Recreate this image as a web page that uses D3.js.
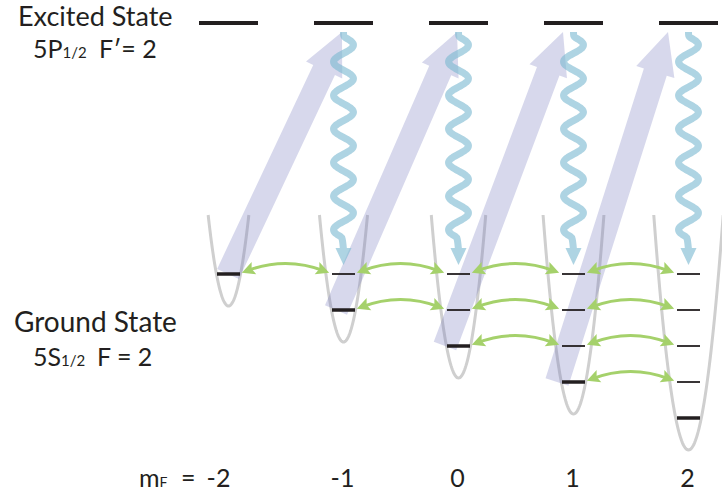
<!DOCTYPE html>
<html>
<head>
<meta charset="utf-8">
<script src="https://cdn.jsdelivr.net/npm/d3@7"></script>
<style>
  body { margin: 0; background: #fff; }
  text { font-family: Lato, "Noto Sans", sans-serif; fill: #231f20; }
</style>
</head>
<body>
<div id="chart"></div>
<script>
// magnetic sublevels and the ladder of trap states in each well
var mF = [-2, -1, 0, 1, 2];
var levelsInWell = [1, 2, 3, 4, 5];        // number of vibrational levels drawn per well
var pumpFrom = [-2, -1, 0, 1];             // optical pumping: ground mF -> excited mF+1
var pumpTo = [-1, 0, 1, 2];
var decayFrom = [-1, 0, 1, 2];             // spontaneous decay, excited mF -> ground mF
var tickLabels = ["-2", "-1", "0", "1", "2"];

var width = 722, height = 495;

var svg = d3.select("#chart").append("svg")
    .attr("width", width)
    .attr("height", height);

var x = d3.scaleLinear().domain([-2, 2]).range([228.5, 688.5]);
var yLevel = d3.scaleLinear().domain([0, 4]).range([274, 418]);
var yExcited = 23;
var wellTop = 215;
var curv = [0.22, 0.22, 0.22, 0.215, 0.195];

// ---- wells
var wells = svg.append("g");
mF.forEach(function(m, i) {
    var cx = x(m), k = curv[i];
    var yb = yLevel(levelsInWell[i] - 1) + 32;
    var hw = Math.sqrt((yb - wellTop) / k);
    var pts = d3.range(-hw, hw + 0.01, hw / 40).map(function(dx) {
        return [cx + dx, yb - k * dx * dx];
    });
    wells.append("path")
        .attr("d", d3.line()(pts))
        .attr("fill", "none")
        .attr("stroke", "#cfcfcf")
        .attr("stroke-width", 3);
});

// ---- pumping arrows (wide lavender)
var tailNudge = [-0.5, -7.5, -13.5, -16.5];
var tipNudge = [-1.5, -1.5, -10.5, -20.5];
var pumps = svg.append("g");
pumpFrom.forEach(function(m, i) {
    var wi = mF.indexOf(m);
    var T = [x(m) + tailNudge[i], yLevel(levelsInWell[wi] - 1)];
    var P = [x(pumpTo[i]) + tipNudge[i], yExcited + 9];
    var dx = P[0] - T[0], dy = P[1] - T[1], len = Math.sqrt(dx * dx + dy * dy);
    var u = [dx / len, dy / len], n = [-u[1], u[0]];
    var sw = 12, hh = 20, hl = 42;
    var B = [P[0] - u[0] * hl, P[1] - u[1] * hl];
    function off(p, s) { return [p[0] + n[0] * s, p[1] + n[1] * s]; }
    var poly = [off(T, sw), off(T, -sw), off(B, -sw), off(B, -hh), P, off(B, hh), off(B, sw)];
    pumps.append("path")
        .attr("d", "M" + poly.join("L") + "Z")
        .attr("fill", "#7c7fc0")
        .attr("fill-opacity", 0.3);
});

// ---- ground state levels
var levels = svg.append("g");
mF.forEach(function(m, i) {
    d3.range(levelsInWell[i]).forEach(function(j) {
        var last = j === levelsInWell[i] - 1;
        levels.append("line")
            .attr("x1", x(m) - 11.5).attr("x2", x(m) + 11.5)
            .attr("y1", yLevel(j)).attr("y2", yLevel(j))
            .attr("stroke", "#231f20")
            .attr("stroke-width", last ? 3.5 : 1.8);
    });
    // excited state bar
    levels.append("line")
        .attr("x1", x(m) - 29.5).attr("x2", x(m) + 29.5)
        .attr("y1", yExcited).attr("y2", yExcited)
        .attr("stroke", "#231f20")
        .attr("stroke-width", 4);
});

// ---- couplings between neighbouring wells (green double arrows)
var defs = svg.append("defs");
defs.append("marker")
    .attr("id", "gh")
    .attr("markerUnits", "userSpaceOnUse")
    .attr("markerWidth", 16).attr("markerHeight", 16)
    .attr("viewBox", "-2 -8 16 16")
    .attr("refX", 8).attr("refY", 0)
    .attr("orient", "auto-start-reverse")
    .append("path")
    .attr("d", "M0,-6.5L13,0L0,6.5L2.5,0Z")
    .attr("fill", "#a5d16b");

var couple = svg.append("g");
mF.slice(0, 4).forEach(function(m, i) {
    d3.range(levelsInWell[i]).forEach(function(j) {
        var y0 = yLevel(j) - 3;
        var a = x(m) + 18, b = x(m + 1) - 19;
        couple.append("path")
            .attr("d", "M" + a + "," + y0 + "Q" + (a + b) / 2 + "," + (y0 - 15) + " " + b + "," + y0)
            .attr("fill", "none")
            .attr("stroke", "#a5d16b")
            .attr("stroke-width", 3)
            .attr("marker-start", "url(#gh)")
            .attr("marker-end", "url(#gh)");
    });
});

// ---- spontaneous decay (wavy blue arrows)
var P_ = 33.6, A = 10, y0w = 36.6, y1w = 238;
decayFrom.forEach(function(m) {
    var cx = x(m);
    var g = svg.append("g").attr("opacity", 0.62);
    var pts = [[cx, yExcited + 9]].concat(d3.range(y0w, y1w + 0.1, 1).map(function(y) {
        return [cx + A * Math.sin(2 * Math.PI * (y - y0w) / P_), y];
    }));
    pts.push([cx, 250]);
    g.append("path")
        .attr("d", d3.line().curve(d3.curveBasis)(pts))
        .attr("fill", "none")
        .attr("stroke", "#7dbad2")
        .attr("stroke-width", 7);
    g.append("path")
        .attr("d", "M" + (cx - 8) + ",248L" + (cx + 8) + ",248L" + cx + "," + (yLevel(0) - 9) + "Z")
        .attr("fill", "#7dbad2");
});

// ---- text
svg.append("text").attr("x", 18).attr("y", 26).style("font-size", "27px").text("Excited State");
var t2 = svg.append("text").attr("x", 33).attr("y", 58).style("font-size", "25px");
t2.append("tspan").text("5P");
t2.append("tspan").style("font-size", "15px").text("1/2");
t2.append("tspan").attr("x", 99).text("F\u2032= 2");

svg.append("text").attr("x", 14).attr("y", 332).style("font-size", "28px").text("Ground State");
var t4 = svg.append("text").attr("x", 33).attr("y", 366).style("font-size", "25px");
t4.append("tspan").text("5S");
t4.append("tspan").style("font-size", "15px").text("1/2");
t4.append("tspan").attr("x", 97).text("F = 2");

var t5 = svg.append("text").attr("x", 139).attr("y", 487).style("font-size", "25px");
t5.append("tspan").text("m");
t5.append("tspan").style("font-size", "14px").text("F");
t5.append("tspan").attr("x", 181).text("=");

svg.append("g").selectAll("text")
    .data(mF)
    .enter().append("text")
    .attr("x", function(d, i) { return x(d) + (i === 0 ? -10 : -1); })
    .attr("y", 487)
    .attr("text-anchor", "middle")
    .style("font-size", "25px")
    .text(function(d, i) { return tickLabels[i]; });
</script>
</body>
</html>
